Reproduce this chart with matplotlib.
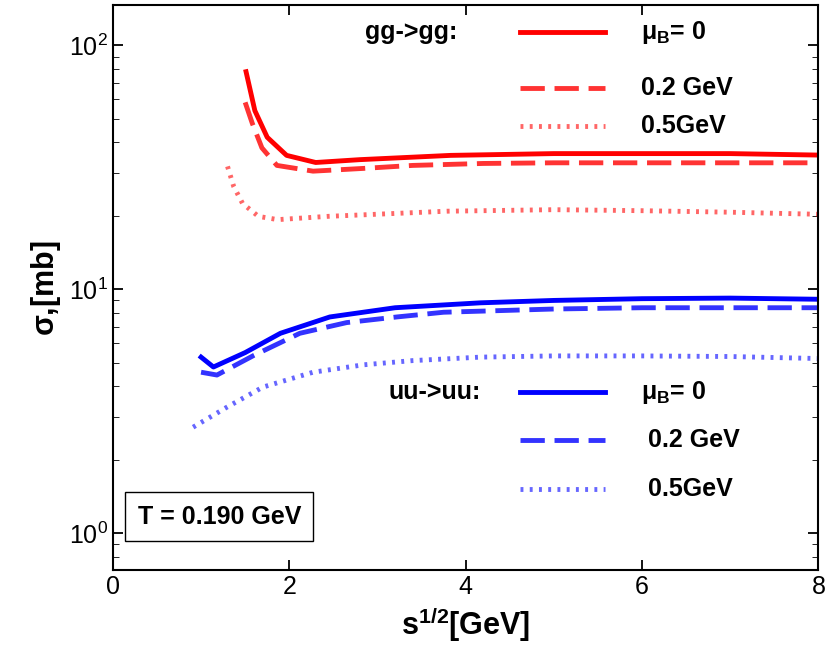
import matplotlib
matplotlib.use("Agg")
import matplotlib.pyplot as plt

plt.rcParams["font.family"] = "Liberation Sans"
plt.rcParams["mathtext.fontset"] = "custom"
plt.rcParams["mathtext.rm"] = "Liberation Sans"
plt.rcParams["mathtext.bf"] = "Liberation Sans:bold"

# gg->gg
gg_x0 = [1.51, 1.61, 1.75, 1.97, 2.3, 2.8, 3.83, 5, 6, 7, 8]
gg_y0 = [78, 54, 42, 35.4, 33.1, 34, 35.4, 36, 36, 36, 35.5]
gg_x2 = [1.5, 1.58, 1.69, 1.86, 2.27, 2.84, 3.4, 4.2, 5, 6, 7, 8]
gg_y2 = [58.4, 48, 38, 32.2, 30.5, 31.3, 32.2, 32.8, 33, 33, 33, 33]
gg_x5 = [1.3, 1.37, 1.47, 1.65, 1.87, 2.43, 3.79, 5, 6, 7, 8]
gg_y5 = [31.9, 26.4, 22.5, 19.9, 19.3, 19.9, 20.9, 21.2, 21, 20.7, 20.3]
# uu->uu
uu_x0 = [1.0, 1.14, 1.5, 1.9, 2.46, 3.2, 4.17, 5, 6, 7, 8]
uu_y0 = [5.27, 4.8, 5.5, 6.6, 7.7, 8.4, 8.8, 9.0, 9.15, 9.2, 9.1]
uu_x2 = [1.0, 1.18, 1.6, 2.12, 2.65, 3.22, 3.75, 5, 6, 7, 8]
uu_y2 = [4.57, 4.45, 5.36, 6.6, 7.3, 7.7, 8.05, 8.3, 8.4, 8.4, 8.4]
uu_x5 = [0.91, 1.29, 1.7, 2.27, 2.84, 3.4, 4.17, 5, 6, 7, 8]
uu_y5 = [2.72, 3.28, 3.97, 4.57, 4.9, 5.1, 5.27, 5.33, 5.33, 5.3, 5.2]

red, blue = "#ff0000", "#0000ff"
dash = (0, (5, 2))
dots = (0, (0.6, 1.3))

fig = plt.figure(figsize=(8.3, 6.63), dpi=100)
ax = fig.add_axes([0.136, 0.14, 0.85, 0.852])
ax.set_yscale("log")
ax.set_xlim(0, 8)
ax.set_ylim(0.705, 146)

ax.plot(gg_x0, gg_y0, color=red, lw=3.5)
ax.plot(gg_x2, gg_y2, color=red, lw=3.5, ls=dash, alpha=0.8)
ax.plot(gg_x5, gg_y5, color=red, lw=3.5, ls=dots, alpha=0.6)
ax.plot(uu_x0, uu_y0, color=blue, lw=3.5)
ax.plot(uu_x2, uu_y2, color=blue, lw=3.5, ls=dash, alpha=0.8)
ax.plot(uu_x5, uu_y5, color=blue, lw=3.5, ls=dots, alpha=0.6)

fs = 18
tr = ax.transAxes
# legends
ax.text(0.357, 0.952, "gg->gg:", transform=tr, fontsize=fs, fontweight="bold", va="center")
for i, (y, ls, a, lab) in enumerate([(0.952, "-", 1, r"$\mathbf{\mu_B}$= 0"),
                                     (0.853, dash, 0.8, "0.2 GeV"),
                                     (0.786, dots, 0.6, "0.5GeV")]):
    ax.plot([0.577, 0.698], [y, y], transform=tr, color=red, lw=3.5, ls=ls, alpha=a)
    ax.text(0.748, y, lab, transform=tr, fontsize=fs, fontweight="bold", va="center")
ax.text(0.39, 0.315, "uu->uu:", transform=tr, fontsize=fs, fontweight="bold", va="center")
for i, (y, ls, a, lab) in enumerate([(0.315, "-", 1, r"$\mathbf{\mu_B}$= 0"),
                                     (0.23, dash, 0.8, " 0.2 GeV"),
                                     (0.143, dots, 0.6, " 0.5GeV")]):
    ax.plot([0.577, 0.698], [y, y], transform=tr, color=blue, lw=3.5, ls=ls, alpha=a)
    ax.text(0.748, y, lab, transform=tr, fontsize=fs, fontweight="bold", va="center")

ax.text(0.035, 0.095, "T = 0.190 GeV", transform=tr, fontsize=fs, fontweight="bold",
        va="center", bbox=dict(boxstyle="square,pad=0.5", fc="white", ec="black"))

ax.set_xlabel(r"s$^{\mathbf{1/2}}$[GeV]", fontsize=22, fontweight="bold")
ax.set_ylabel(r"$\mathbf{\sigma}$,[mb]", fontsize=22, fontweight="bold")
ax.tick_params(labelsize=18, direction="in", which="both", top=True, right=True)
ax.tick_params(which="major", length=7, width=1.3)
ax.tick_params(which="minor", length=4)
ax.set_xticks([0, 2, 4, 6, 8])
for s in ax.spines.values():
    s.set_linewidth(1.5)

fig.savefig("out.png")
